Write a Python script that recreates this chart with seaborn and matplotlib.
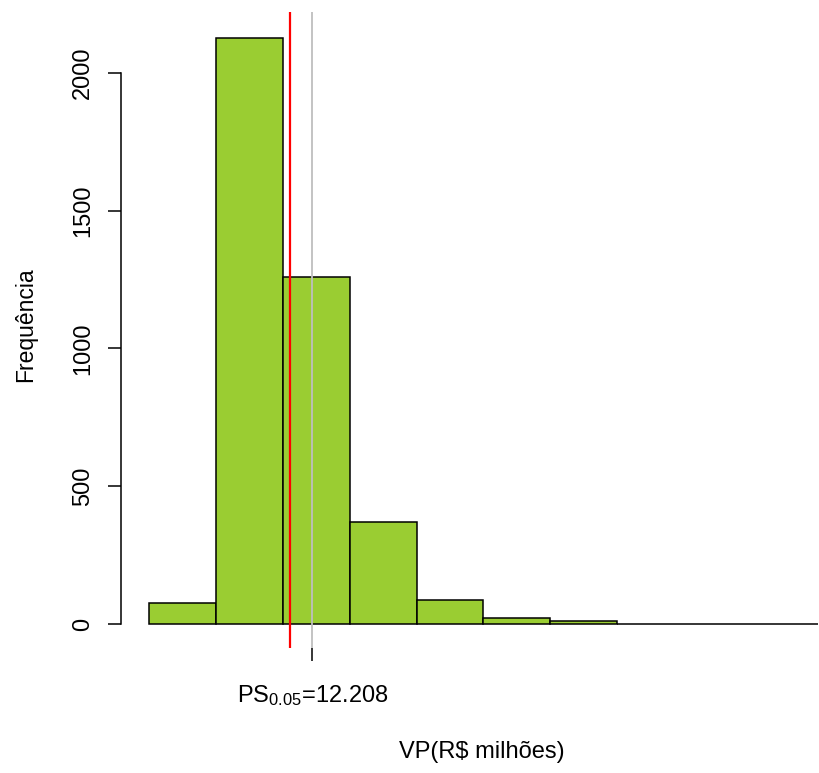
import numpy as np
import seaborn as sns
import matplotlib
matplotlib.use("Agg")
import matplotlib.pyplot as plt

# histogram bins (VP in R$ milhões) and counts
bin_edges = [0, 5, 10, 15, 20, 25, 30, 35, 40, 45, 50]
counts = [76, 2127, 1260, 370, 87, 22, 12, 0, 0, 0]
ps_value = 12.208      # PS_0.05, grey line + tick
red_value = 10.54      # red reference line

bin_centers = [(a + b) / 2 for a, b in zip(bin_edges[:-1], bin_edges[1:])]

sns.set_style("white")
plt.rcParams['font.family'] = ['Liberation Sans', 'DejaVu Sans']
plt.rcParams['mathtext.fontset'] = 'custom'
plt.rcParams['mathtext.rm'] = 'Liberation Sans'
plt.rcParams['mathtext.it'] = 'Liberation Sans'
plt.rcParams['text.color'] = 'black'
plt.rcParams['xtick.color'] = 'black'
plt.rcParams['ytick.color'] = 'black'

W, H = 820, 773
fig = plt.figure(figsize=(W / 100, H / 100), dpi=100)

# axes box in pixels: left 121, right 820, top 12, bottom 648
ax = fig.add_axes([121 / W, 1 - 648 / H, (W - 121) / W, (648 - 12) / H])

sns.histplot(x=bin_centers, weights=counts, bins=bin_edges, color="#9ACD32",
             edgecolor="black", linewidth=1.1, alpha=1, ax=ax)

ax.axvline(ps_value, color="#BEBEBE", linewidth=1.3)
ax.axvline(red_value, color="red", linewidth=1.6)

ax.set_xlim(-2.09, 50.15)
ax.set_ylim(-87, 2221)

for s in ['top', 'right', 'bottom']:
    ax.spines[s].set_visible(False)
ax.spines['left'].set_bounds(0, 2000)
ax.spines['left'].set_color('black')
ax.spines['left'].set_linewidth(1.1)

ax.set_yticks([0, 500, 1000, 1500, 2000])
ax.set_yticklabels(['0', '500', '1000', '1500', '2000'], rotation=90, va='center')
ax.tick_params(axis='y', length=9.4, width=1.1, pad=10, labelsize=17, left=True,
               colors='black')

ax.set_xticks([ps_value])
ax.set_xticklabels([r'PS$_{0.05}$=12.208'])
ax.tick_params(axis='x', length=9.6, width=1.1, pad=16, labelsize=17, bottom=True,
               colors='black')

ax.set_xlabel('')
ax.set_ylabel('')
fig.text(26 / W, 1 - 325 / H, 'Frequência', rotation=90, ha='center', va='center',
         fontsize=16.5, color='black')
fig.text(482 / W, 1 - 752 / H, 'VP(R$ milhões)', ha='center', va='center',
         fontsize=17, color='black')

fig.savefig("out.png", dpi=100)
